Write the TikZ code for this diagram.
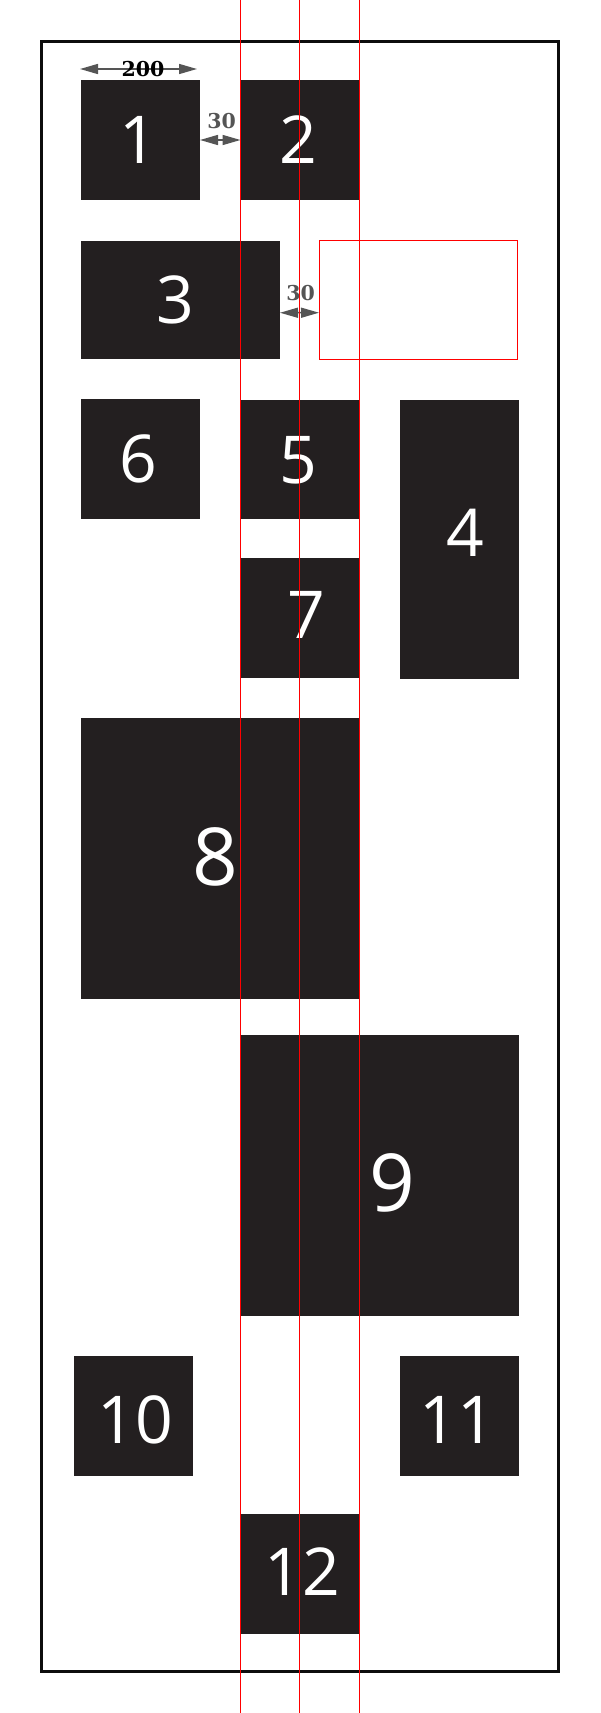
\documentclass[tikz,border=0pt]{standalone}
\usepackage{fontspec}
\newfontfamily\numfont{Open Sans}
\newfontfamily\dimfont{DejaVu Serif}
\usetikzlibrary{arrows.meta,calc}
\definecolor{boxblack}{HTML}{231F20}
\definecolor{dimgray}{HTML}{555555}
\begin{document}
\begin{tikzpicture}[x=1pt,y=-1pt,
  blk/.style={fill=boxblack,draw=none,inner sep=0pt,outer sep=0pt},
  num/.style={text=white,inner sep=0pt,font=\numfont\fontsize{66}{66}\selectfont},
  bignum/.style={text=white,inner sep=0pt,font=\numfont\fontsize{80}{80}\selectfont},
  dimarrow/.style={draw=dimgray,line width=1.5pt,{Triangle[length=18pt,width=10pt]}-{Triangle[length=18pt,width=10pt]}},
  dimlabel/.style={inner sep=0pt,font=\dimfont\bfseries\fontsize{20.5}{20.5}\selectfont},
  guide/.style={draw=red,line width=1pt},
  frame/.style={draw=black!95,line width=3pt}]
\useasboundingbox (0,0) rectangle (600,1713);
\fill[white] (0,0) rectangle (600,1713);
% outer frame
\node[frame,inner sep=0pt,minimum width=517.5pt,minimum height=1630.5pt] (fr) at (299.75,856.25) {};
% boxes
\node[blk,minimum width=119pt,minimum height=120pt] (b1) at (140.5,140) {};
\node[blk,minimum width=119pt,minimum height=120pt] (b2) at (300,140) {};
\node[blk,minimum width=199pt,minimum height=118.5pt] (b3) at (180.5,299.75) {};
\node[blk,minimum width=119pt,minimum height=120pt] (b6) at (140.5,459) {};
\node[blk,minimum width=119pt,minimum height=119pt] (b5) at (300,459.5) {};
\node[blk,minimum width=119pt,minimum height=279pt] (b4) at (459,539.5) {};
\node[blk,minimum width=119pt,minimum height=119.5pt] (b7) at (300,617.75) {};
\node[blk,minimum width=278.5pt,minimum height=281pt] (b8) at (220.25,858.5) {};
\node[blk,minimum width=278pt,minimum height=281pt] (b9) at (379.5,1175.5) {};
\node[blk,minimum width=119pt,minimum height=120pt] (b10) at (133,1416) {};
\node[blk,minimum width=119pt,minimum height=120pt] (b11) at (459,1416) {};
\node[blk,minimum width=119pt,minimum height=120pt] (b12) at (300,1574) {};
% red empty rectangle
\node[draw=red,line width=1pt,inner sep=0pt,minimum width=198pt,minimum height=119pt] (r) at (418.5,300) {};
% numbers
\node[num] (t1) at (138.5,140) {1};
\node[num] (t2) at (298,140) {2};
\node[num] (t3) at (175,300) {3};
\node[num] (t6) at (138.5,459) {6};
\node[num] (t5) at (298,460) {5};
\node[num] (t4) at (465,533) {4};
\node[num] (t7) at (306,615) {7};
\node[bignum] (t8) at (215,857) {8};
\node[bignum] (t9) at (392,1183) {9};
\node[num] (t10) at (135,1420) {10};
\node[num] (t11) at (457,1420) {11};
\node[num] (t12) at (302,1572) {12};
% dimension arrows
\coordinate (d1a) at (80,69);
\coordinate (d1b) at (197,69);
\draw[dimarrow] (d1a) -- (d1b);
\node[dimlabel,text=black] (l200) at (143,69) {200};
\draw[dimarrow] (b1.east) -- (b2.west);
\node[dimlabel,text=dimgray] (l30a) at (221.7,121) {30};
\draw[dimarrow] ($(b3.east)+(0,13)$) -- ($(r.west)+(0,12.7)$);
\node[dimlabel,text=dimgray] (l30b) at (300.7,293.5) {30};
% red guide lines
\coordinate (g1t) at (240.3,0); \coordinate (g1b) at (240.3,1713);
\coordinate (g2t) at (299.3,0); \coordinate (g2b) at (299.3,1713);
\coordinate (g3t) at (359.5,0); \coordinate (g3b) at (359.5,1713);
\draw[guide] (g1t) -- (g1b);
\draw[guide] (g2t) -- (g2b);
\draw[guide] (g3t) -- (g3b);
\end{tikzpicture}
\end{document}
